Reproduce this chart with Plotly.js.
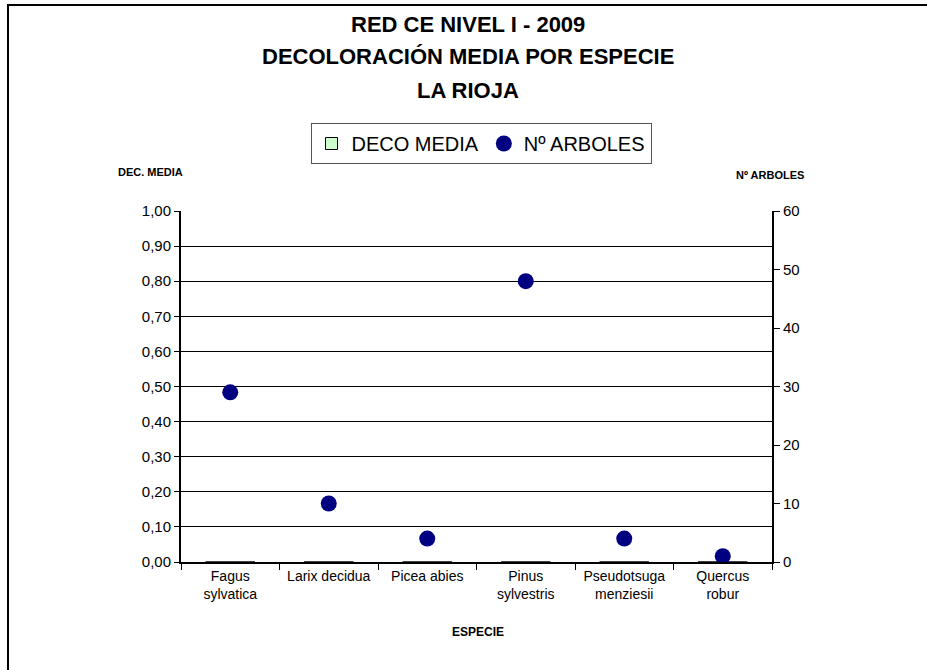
<!DOCTYPE html>
<html>
<head>
<meta charset="utf-8">
<script src="https://cdn.plot.ly/plotly-3.0.1.min.js"></script>
<style>
  html, body { margin: 0; padding: 0; background: #fff; }
  #chart { width: 927px; height: 670px; }
</style>
</head>
<body>
<div id="chart"></div>
<script>
const categories = ["Fagus<br>sylvatica", "Larix decidua", "Picea abies", "Pinus<br>sylvestris", "Pseudotsuga<br>menziesii", "Quercus<br>robur"];
const decoMedia = [0, 0, 0, 0, 0, 0];
const numArboles = [29, 10, 4, 48, 4, 1];
const leftTicks = [0, 0.1, 0.2, 0.3, 0.4, 0.5, 0.6, 0.7, 0.8, 0.9, 1.0];
const rightTicks = [0, 10, 20, 30, 40, 50, 60];
const titleLines = ["RED CE NIVEL I - 2009", "DECOLORACIÓN MEDIA POR ESPECIE", "LA RIOJA"];

const FONT = "Liberation Sans, Arial, sans-serif";

const traces = [
  {
    type: "bar",
    name: "DECO MEDIA",
    x: categories,
    y: decoMedia,
    marker: { color: "#CCFFCC", line: { color: "#000000", width: 1 } },
    yaxis: "y",
    hoverinfo: "skip"
  },
  {
    type: "scatter",
    mode: "markers",
    name: "Nº ARBOLES",
    x: categories,
    y: numArboles,
    marker: { color: "#000080", size: 16, symbol: "circle" },
    yaxis: "y2"
  }
];

const L = 181, R = 772, T = 211, B = 562, W = 927, H = 670;
const px = v => (v - L) / (R - L);
const py = v => (B - v) / (B - T);

const titleY = [24, 57, 90];
const annotations = titleLines.map((t, i) => ({
  text: t, showarrow: false,
  xref: "paper", yref: "paper",
  x: px(468), y: py(titleY[i]), xanchor: "center", yanchor: "middle",
  font: { family: FONT, size: 22, color: "#000000", weight: "bold" }
}));
annotations.push(
  {
    text: "DEC. MEDIA", showarrow: false,
    xref: "paper", yref: "paper",
    x: px(150), y: py(172), xanchor: "center", yanchor: "middle",
    font: { family: FONT, size: 11, color: "#000000", weight: "bold" }
  },
  {
    text: "Nº ARBOLES", showarrow: false,
    xref: "paper", yref: "paper",
    x: px(770), y: py(175), xanchor: "center", yanchor: "middle",
    font: { family: FONT, size: 11, color: "#000000", weight: "bold" }
  },
  {
    text: "ESPECIE", showarrow: false,
    xref: "paper", yref: "paper",
    x: px(478), y: py(632), xanchor: "center", yanchor: "middle",
    font: { family: FONT, size: 12, color: "#000000", weight: "bold" }
  }
);

const layout = {
  width: W,
  height: H,
  margin: { l: L, r: W - R, t: T, b: H - B, pad: 0 },
  paper_bgcolor: "#ffffff",
  plot_bgcolor: "#ffffff",
  separators: ",.",
  font: { family: FONT, color: "#000000", size: 15 },
  showlegend: true,
  legend: {
    orientation: "h",
    x: px(481), xanchor: "center",
    y: py(123), yanchor: "top",
    bordercolor: "#555555",
    borderwidth: 1,
    bgcolor: "#ffffff",
    font: { family: FONT, size: 20, color: "#000000" },
    itemwidth: 30,
    traceorder: "normal"
  },
  xaxis: {
    type: "category",
    tickson: "boundaries",
    ticks: "outside",
    ticklen: 6,
    tickcolor: "#000000",
    showline: true,
    linecolor: "#000000",
    linewidth: 2,
    showgrid: false,
    zeroline: false,
    tickfont: { family: FONT, size: 14, color: "#000000" },
    fixedrange: true
  },
  yaxis: {
    range: [0, 1],
    tickvals: leftTicks,
    tickformat: ".2f",
    ticks: "outside",
    ticklen: 5,
    tickcolor: "#000000",
    showline: true,
    linecolor: "#000000",
    linewidth: 2,
    showgrid: true,
    gridcolor: "#000000",
    gridwidth: 1,
    zeroline: false,
    tickfont: { family: FONT, size: 15, color: "#000000" },
    fixedrange: true
  },
  yaxis2: {
    overlaying: "y",
    side: "right",
    range: [0, 60],
    tickvals: rightTicks,
    ticks: "outside",
    ticklen: 6,
    tickcolor: "#000000",
    showline: true,
    linecolor: "#000000",
    linewidth: 2,
    showgrid: false,
    zeroline: false,
    tickfont: { family: FONT, size: 15, color: "#000000" },
    fixedrange: true
  },
  bargap: 0.5,
  annotations: annotations,
  shapes: [
    {
      type: "rect", xref: "paper", yref: "paper",
      x0: px(8), x1: px(940), y0: py(690), y1: py(5),
      line: { color: "#000000", width: 2 },
      fillcolor: "rgba(0,0,0,0)",
      layer: "above"
    }
  ]
};

Plotly.newPlot("chart", traces, layout, { displayModeBar: false, staticPlot: true });
</script>
</body>
</html>
